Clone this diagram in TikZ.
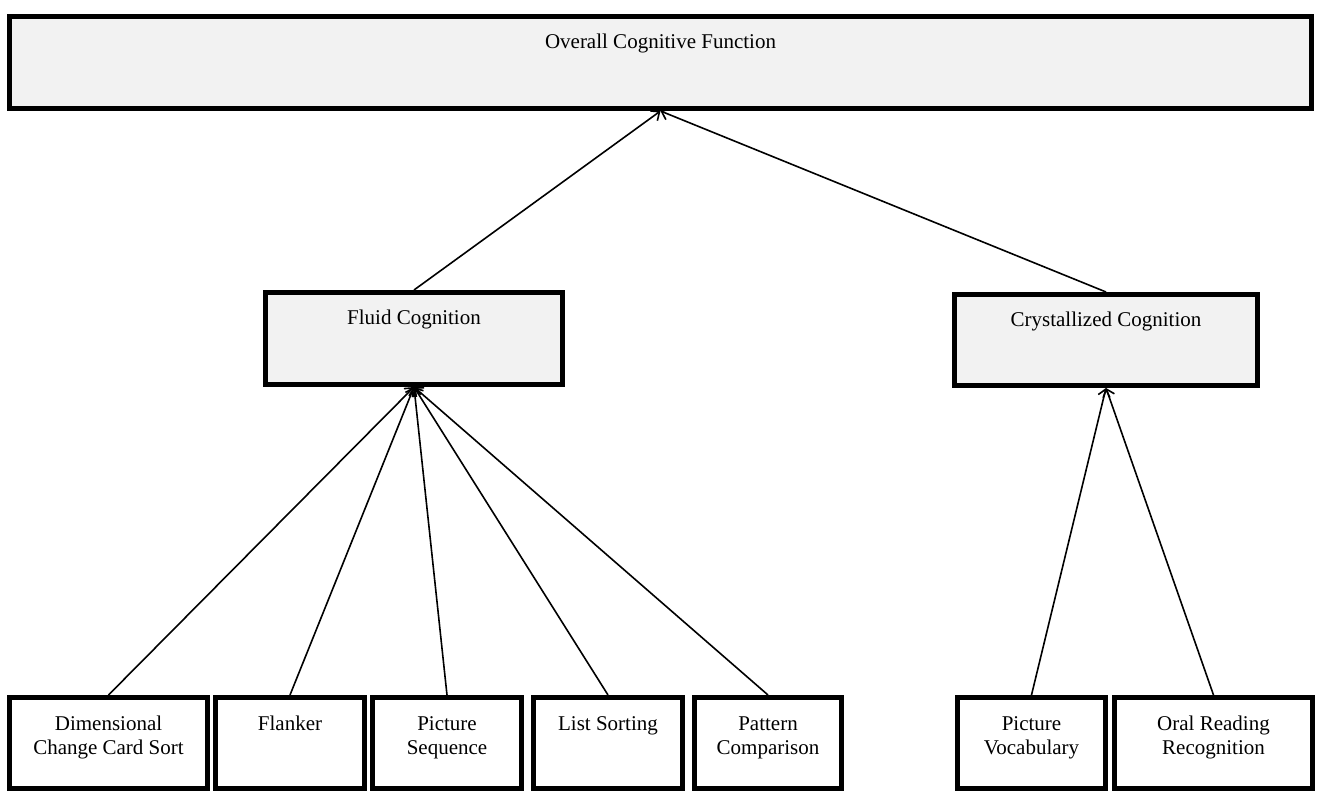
\documentclass[tikz,border=0pt]{standalone}
\usepackage{fontspec}
\setmainfont{Liberation Serif}
\usetikzlibrary{positioning,arrows.meta}
\definecolor{boxgray}{HTML}{F2F2F2}

\begin{document}
\begin{tikzpicture}[x=1pt,y=-1pt,
  box/.style={draw,line width=5pt,inner sep=0pt,minimum height=91pt},
  shaded/.style={box,fill=boxgray},
  lbl/.style={inner sep=0pt,anchor=north,align=center,font=\fontsize{21}{24}\selectfont},
  link/.style={-{Straight Barb[length=7pt,width=12pt,line width=1.6pt]},line width=1.6pt}]
\useasboundingbox (0,0) rectangle (1323,797);
% upper levels
\node[shaded,minimum width=1302pt,minimum height=92pt] (overall) at (660.5,62.5) {};
\node[shaded,minimum width=297pt,minimum height=92pt] (fluid) at (414,338.5) {};
\node[shaded,minimum width=303pt] (cryst) at (1106,340) {};
\node[lbl,below=20pt of overall.north] (overalltxt) {Overall Cognitive Function};
\node[lbl,below=20pt of fluid.north] (fluidtxt) {Fluid Cognition};
\node[lbl,below=20pt of cryst.north] (crysttxt) {Crystallized Cognition};
% tests
\node[box,minimum width=198pt] (dccs) at (108.5,743) {};
\node[box,minimum width=149pt] (flanker) at (290,743) {};
\node[box,minimum width=149pt] (picseq) at (447,743) {};
\node[box,minimum width=149pt] (listsort) at (608,743) {};
\node[box,minimum width=147pt] (pattern) at (768,743) {};
\node[box,minimum width=148pt] (picvoc) at (1031.5,743) {};
\node[box,minimum width=198pt] (oral) at (1213.5,743) {};
\node[lbl,below=21pt of dccs.north] (dccstxt) {Dimensional\\Change Card Sort};
\node[lbl,below=21pt of flanker.north] (flankertxt) {Flanker};
\node[lbl,below=21pt of picseq.north] (picseqtxt) {Picture\\Sequence};
\node[lbl,below=21pt of listsort.north] (listsorttxt) {List Sorting};
\node[lbl,below=22pt of pattern.north] (patterntxt) {Pattern\\Comparison};
\node[lbl,below=21pt of picvoc.north] (picvoctxt) {Picture\\Vocabulary};
\node[lbl,below=21pt of oral.north] (oraltxt) {Oral Reading\\Recognition};
% arrows
\draw[link] (fluid.north) -- (overall.south);
\draw[link] (cryst.north) -- (overall.south);
\foreach \t in {dccs,flanker,picseq,listsort,pattern}
  \draw[link] (\t.north) -- (fluid.south);
\foreach \t in {picvoc,oral}
  \draw[link] (\t.north) -- (cryst.south);
\end{tikzpicture}
\end{document}
